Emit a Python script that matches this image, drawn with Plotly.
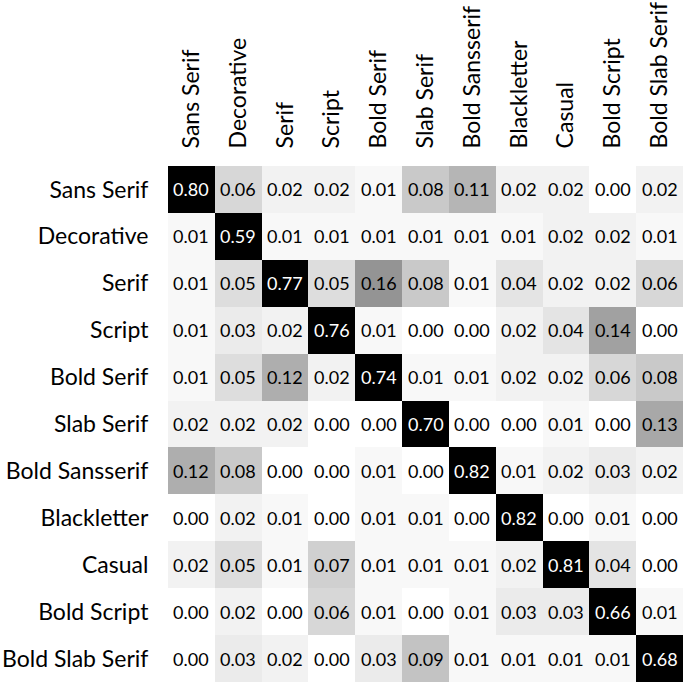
import plotly.graph_objects as go

# font classes (rows = true, columns = predicted)
classes = ["Sans Serif", "Decorative", "Serif", "Script", "Bold Serif", "Slab Serif",
           "Bold Sansserif", "Blackletter", "Casual", "Bold Script", "Bold Slab Serif"]

sans_serif = [0.80, 0.06, 0.02, 0.02, 0.01, 0.08, 0.11, 0.02, 0.02, 0.00, 0.02]
decorative = [0.01, 0.59, 0.01, 0.01, 0.01, 0.01, 0.01, 0.01, 0.02, 0.02, 0.01]
serif = [0.01, 0.05, 0.77, 0.05, 0.16, 0.08, 0.01, 0.04, 0.02, 0.02, 0.06]
script = [0.01, 0.03, 0.02, 0.76, 0.01, 0.00, 0.00, 0.02, 0.04, 0.14, 0.00]
bold_serif = [0.01, 0.05, 0.12, 0.02, 0.74, 0.01, 0.01, 0.02, 0.02, 0.06, 0.08]
slab_serif = [0.02, 0.02, 0.02, 0.00, 0.00, 0.70, 0.00, 0.00, 0.01, 0.00, 0.13]
bold_sansserif = [0.12, 0.08, 0.00, 0.00, 0.01, 0.00, 0.82, 0.01, 0.02, 0.03, 0.02]
blackletter = [0.00, 0.02, 0.01, 0.00, 0.01, 0.01, 0.00, 0.82, 0.00, 0.01, 0.00]
casual = [0.02, 0.05, 0.01, 0.07, 0.01, 0.01, 0.01, 0.02, 0.81, 0.04, 0.00]
bold_script = [0.00, 0.02, 0.00, 0.06, 0.01, 0.00, 0.01, 0.03, 0.03, 0.66, 0.01]
bold_slab_serif = [0.00, 0.03, 0.02, 0.00, 0.03, 0.09, 0.01, 0.01, 0.01, 0.01, 0.68]

z = [sans_serif, decorative, serif, script, bold_serif, slab_serif,
     bold_sansserif, blackletter, casual, bold_script, bold_slab_serif]

fig = go.Figure(go.Heatmap(
    z=z, x=classes, y=classes,
    colorscale=[[0, "#ffffff"], [1, "#000000"]],
    zmin=0, zmax=0.38, showscale=False, hoverinfo="skip",
))

# cell labels, white on the dark cells
for i, row in enumerate(z):
    for j, v in enumerate(row):
        fig.add_annotation(x=classes[j], y=classes[i], text=f"{v:.2f}", showarrow=False,
                           font=dict(size=18, color="white" if v > 0.3 else "black"))

fig.update_layout(
    width=685, height=684,
    margin=dict(l=166, r=2, t=165, b=2),
    paper_bgcolor="white", plot_bgcolor="white",
    font=dict(family="Lato", size=23, color="black"),
)
fig.update_xaxes(side="top", tickangle=-90, showgrid=False, zeroline=False,
                 ticks="outside", ticklen=12, tickcolor="rgba(0,0,0,0)")
fig.update_yaxes(autorange="reversed", showgrid=False, zeroline=False,
                 ticks="outside", ticklen=14, tickcolor="rgba(0,0,0,0)")

# drop the default page margin so the figure sits at the window corner
fig.write_html("out.html", config={"displayModeBar": False},
               post_script="document.body.style.margin='0';document.body.style.overflow='hidden';")
